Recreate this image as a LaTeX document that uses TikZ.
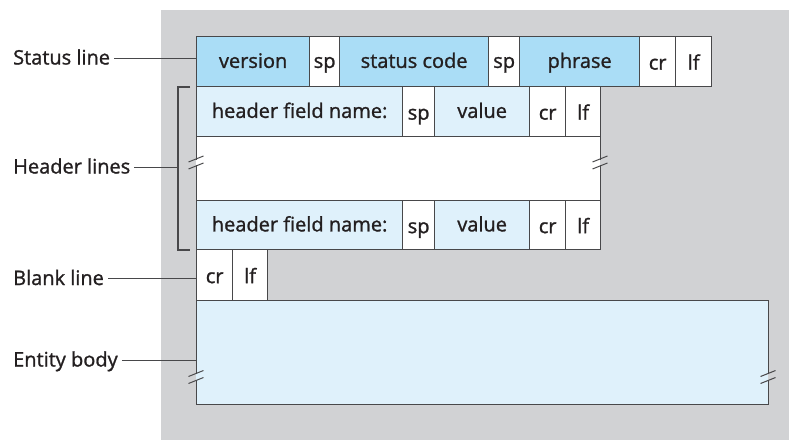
\documentclass[tikz,border=0pt]{standalone}
\usepackage{fontspec}
\setmainfont[FakeBold=1.2]{Open Sans}
\definecolor{bg}{RGB}{209,210,212}
\definecolor{stat}{RGB}{170,221,246}
\definecolor{hdr}{RGB}{223,241,251}
\definecolor{edge}{RGB}{72,72,74}
\definecolor{ink}{RGB}{35,31,32}
\newcommand{\brkmark}[4]{%
  \fill[#3] (#1-1.6,#2-2.7) rectangle (#1,#2+2.7);
  \fill[#4] (#1,#2-2.7) rectangle (#1+1.6,#2+2.7);
  \draw[edge, line width=1pt] (#1-7.5,#2-0.5) -- (#1+7.5,#2-6.5);
  \draw[edge, line width=1pt] (#1-7.5,#2+6.5) -- (#1+7.5,#2+0.5);
}
\begin{document}
\begin{tikzpicture}[x=1pt,y=-1pt,
  txt/.style={text=ink, font=\fontsize{20}{24}\selectfont},
  cell/.style={txt, draw=edge, line width=1.3pt, anchor=north west, inner sep=0pt,
    minimum height=50pt, text height=15pt, text depth=2.5pt},
  low/.style={text height=18pt, text depth=2pt},
  lbl/.style={txt, anchor=base west, inner sep=0pt},
  conn/.style={draw=edge, line width=1.1pt}]
\useasboundingbox (0,0) rectangle (789,440);
\fill[bg] (161,10) rectangle (789,440);
% status line
\node[cell, fill=stat, minimum width=113pt] (ver) at (196,36) {version};
\node[cell, fill=white, minimum width=30pt] (ssp1) at (309,36) {sp};
\node[cell, fill=stat, minimum width=149pt] (code) at (339,36) {status code};
\node[cell, fill=white, minimum width=31pt] (ssp2) at (488,36) {sp};
\node[cell, fill=stat, minimum width=120pt] (phr) at (519,36) {phrase};
\node[cell, low, fill=white, minimum width=36pt] (scr) at (639,36) {cr};
\node[cell, low, fill=white, minimum width=36pt] (slf) at (675,36) {lf};
% header line 1
\node[cell, fill=hdr, minimum width=206pt] (hn1) at (196,86) {header field name:};
\node[cell, low, fill=white, minimum width=32pt] (hs1) at (402,86) {sp};
\node[cell, fill=hdr, minimum width=95pt] (hv1) at (434,86) {value};
\node[cell, low, fill=white, minimum width=36pt] (hc1) at (529,86) {cr};
\node[cell, low, fill=white, minimum width=35pt] (hl1) at (565,86) {lf};
% gap
\node[cell, fill=white, minimum width=404pt, minimum height=64pt] (gap) at (196,136) {};
% header line 2
\node[cell, fill=hdr, minimum width=206pt, minimum height=49pt] (hn2) at (196,200) {header field name:};
\node[cell, low, fill=white, minimum width=32pt, minimum height=49pt] (hs2) at (402,200) {sp};
\node[cell, fill=hdr, minimum width=95pt, minimum height=49pt] (hv2) at (434,200) {value};
\node[cell, low, fill=white, minimum width=36pt, minimum height=49pt] (hc2) at (529,200) {cr};
\node[cell, low, fill=white, minimum width=35pt, minimum height=49pt] (hl2) at (565,200) {lf};
% blank line
\node[cell, low, fill=white, minimum width=36pt, minimum height=51pt] (bcr) at (196,249) {cr};
\node[cell, low, fill=white, minimum width=35pt, minimum height=51pt] (blf) at (232,249) {lf};
% entity body
\node[cell, fill=hdr, minimum width=572pt, minimum height=104pt] (body) at (196,300) {};
% break marks
\brkmark{196}{162.5}{bg}{white}
\brkmark{600}{162.5}{white}{bg}
\brkmark{196}{377}{bg}{hdr}
\brkmark{768}{377}{hdr}{bg}
% labels
\node[lbl] (lstat) at (13,64.5) {Status line};
\draw[conn] ([shift={(4,-6.2)}]lstat.base east) -- ([yshift=6.2pt]lstat.base east -| ver.west);
\coordinate (bt) at (190,87);
\coordinate (bb) at (190,250);
\coordinate (bm) at (178,167);
\draw[conn] (bt) -- ++(-12,0) |- (bb);
\node[lbl] (lhdr) at (13,173.5) {Header lines};
\draw[conn] ([shift={(4,-6.2)}]lhdr.base east) -- ([yshift=6.2pt]lhdr.base east -| bm);
\node[lbl] (lblank) at (13,285) {Blank line};
\draw[conn] ([shift={(4,-6.2)}]lblank.base east) -- ([yshift=6.2pt]lblank.base east -| bcr.west);
\node[lbl] (lbody) at (13,366.5) {Entity body};
\draw[conn] ([shift={(4,-6.2)}]lbody.base east) -- ([yshift=6.2pt]lbody.base east -| body.west);
\end{tikzpicture}
\end{document}
